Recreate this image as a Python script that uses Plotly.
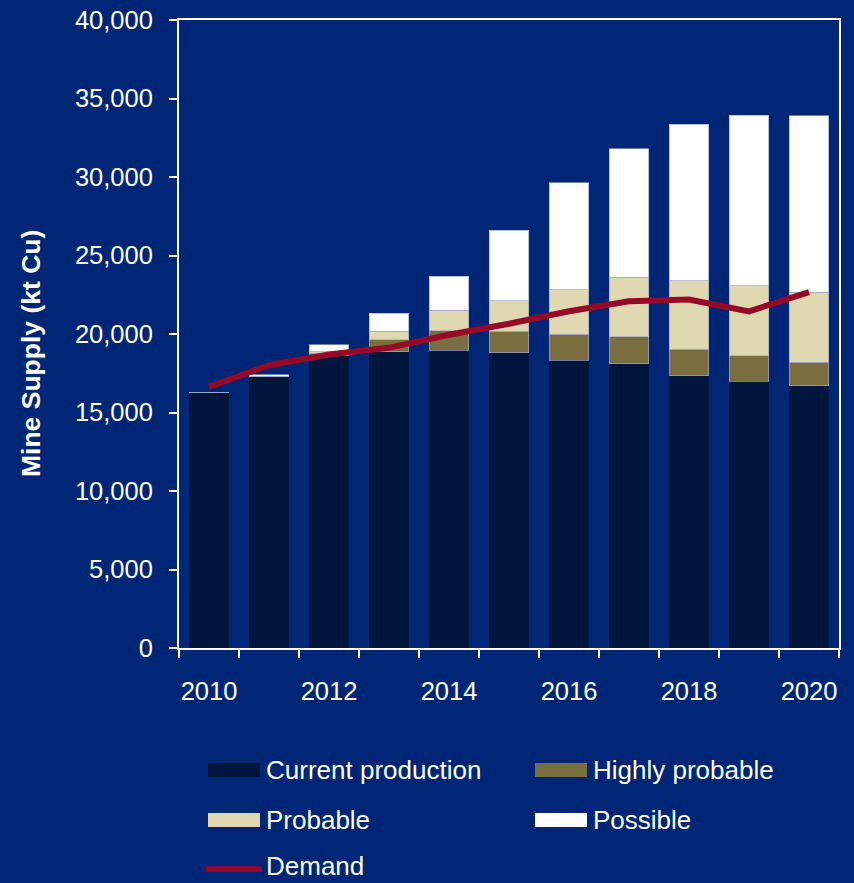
import plotly.graph_objects as go

# Mine supply outlook by project category (kt Cu) and copper demand
years = [2010, 2011, 2012, 2013, 2014, 2015, 2016, 2017, 2018, 2019, 2020]
current_production = [16250, 17270, 18630, 18860, 18970, 18800, 18330, 18100, 17350, 16990, 16710]
highly_probable = [0, 0, 150, 790, 1250, 1360, 1660, 1740, 1680, 1620, 1490]
probable = [0, 50, 90, 510, 1280, 1960, 2830, 3790, 4360, 4460, 4450]
possible = [0, 100, 450, 1150, 2170, 4480, 6830, 8180, 9960, 10850, 11250]
demand = [16630, 18010, 18690, 19120, 19950, 20650, 21450, 22090, 22200, 21440, 22670]

label_years = [2010, 2012, 2014, 2016, 2018, 2020]
y_ticks = [0, 5000, 10000, 15000, 20000, 25000, 30000, 35000, 40000]

BG = "#002675"
C_CURRENT = "#00163C"
C_HIGH = "#7A6E3E"
C_PROB = "#E0D8B0"
C_POSS = "#FFFFFF"
C_DEMAND = "#960A28"
FONT = "Liberation Sans, Arial, sans-serif"

W, H = 854, 883
M_L, M_R, M_T, M_B = 179, 15, 20, 235
PW = W - M_L - M_R
PH = H - M_T - M_B


def px_x(q):
    return (q - M_L) / PW


def px_y(p):
    return (H - M_B - p) / PH


fig = go.Figure()

edge = dict(color="rgba(160,170,200,0.7)", width=1)
fig.add_trace(go.Bar(x=years, y=current_production, name="Current production",
                     marker=dict(color=C_CURRENT, line=dict(width=0))))
fig.add_trace(go.Bar(x=years, y=highly_probable, name="Highly probable",
                     marker=dict(color=C_HIGH, line=edge)))
fig.add_trace(go.Bar(x=years, y=probable, name="Probable",
                     marker=dict(color=C_PROB, line=edge)))
fig.add_trace(go.Bar(x=years, y=possible, name="Possible",
                     marker=dict(color=C_POSS, line=edge)))
fig.add_trace(go.Scatter(x=years, y=demand, name="Demand", mode="lines",
                         line=dict(color=C_DEMAND, width=6)))

fig.update_layout(
    width=W, height=H,
    barmode="stack", bargap=0.335,
    paper_bgcolor=BG, plot_bgcolor=BG,
    margin=dict(l=M_L, r=M_R, t=M_T, b=M_B, pad=0, autoexpand=False),
    showlegend=False,
    font=dict(family=FONT, color="white", size=25),
)

fig.update_xaxes(
    range=[2009.5, 2020.5], automargin=False,
    tickvals=label_years, ticktext=[str(y) for y in label_years],
    ticks="outside", ticklen=0, tickcolor="white",
    minor=dict(tickvals=[y - 0.5 for y in years] + [2020.5],
               ticks="outside", ticklen=8, tickwidth=2, tickcolor="white"),
    showline=True, linecolor="white", linewidth=2, mirror=True,
    showgrid=False, zeroline=False,
    tickfont=dict(size=25.5, color="white", family=FONT),
    ticklabelstandoff=19,
)

fig.update_yaxes(
    range=[0, 40000], automargin=False,
    tickvals=y_ticks, tickformat=",d",
    ticks="outside", ticklen=8, tickwidth=2, tickcolor="white",
    showline=True, linecolor="white", linewidth=2, mirror=True,
    showgrid=False, zeroline=False,
    tickfont=dict(size=25.5, color="white", family=FONT),
    ticklabelstandoff=11,
)

# Vertical axis title
fig.add_annotation(text="<b>Mine Supply (kt Cu)</b>", xref="paper", yref="paper",
                   x=px_x(31), y=px_y(354), xanchor="center", yanchor="middle",
                   textangle=-90, showarrow=False,
                   font=dict(size=26.5, color="white", family=FONT))

# Legend drawn below the plot in two columns
legend_items = [
    ("Current production", C_CURRENT, "box", 208, 770, 770),
    ("Highly probable", C_HIGH, "box", 535, 770, 770),
    ("Probable", C_PROB, "box", 208, 820, 820),
    ("Possible", C_POSS, "box", 535, 820, 820),
    ("Demand", C_DEMAND, "line", 206, 869, 866),
]
for text, color, kind, x0, yc, ytext in legend_items:
    if kind == "box":
        fig.add_shape(type="rect", xref="paper", yref="paper",
                      x0=px_x(x0), x1=px_x(x0 + 52),
                      y0=px_y(yc - 7), y1=px_y(yc + 7),
                      fillcolor=color, line=dict(width=0))
        tx = x0 + 56
    else:
        fig.add_shape(type="line", xref="paper", yref="paper",
                      x0=px_x(x0), x1=px_x(x0 + 56),
                      y0=px_y(yc), y1=px_y(yc),
                      line=dict(color=color, width=5.5))
        tx = x0 + 58
    fig.add_annotation(text=text, xref="paper", yref="paper",
                       x=px_x(tx), y=px_y(ytext), xanchor="left", yanchor="middle",
                       showarrow=False,
                       font=dict(size=26, color="white", family=FONT))

fig.write_html("out.html")
